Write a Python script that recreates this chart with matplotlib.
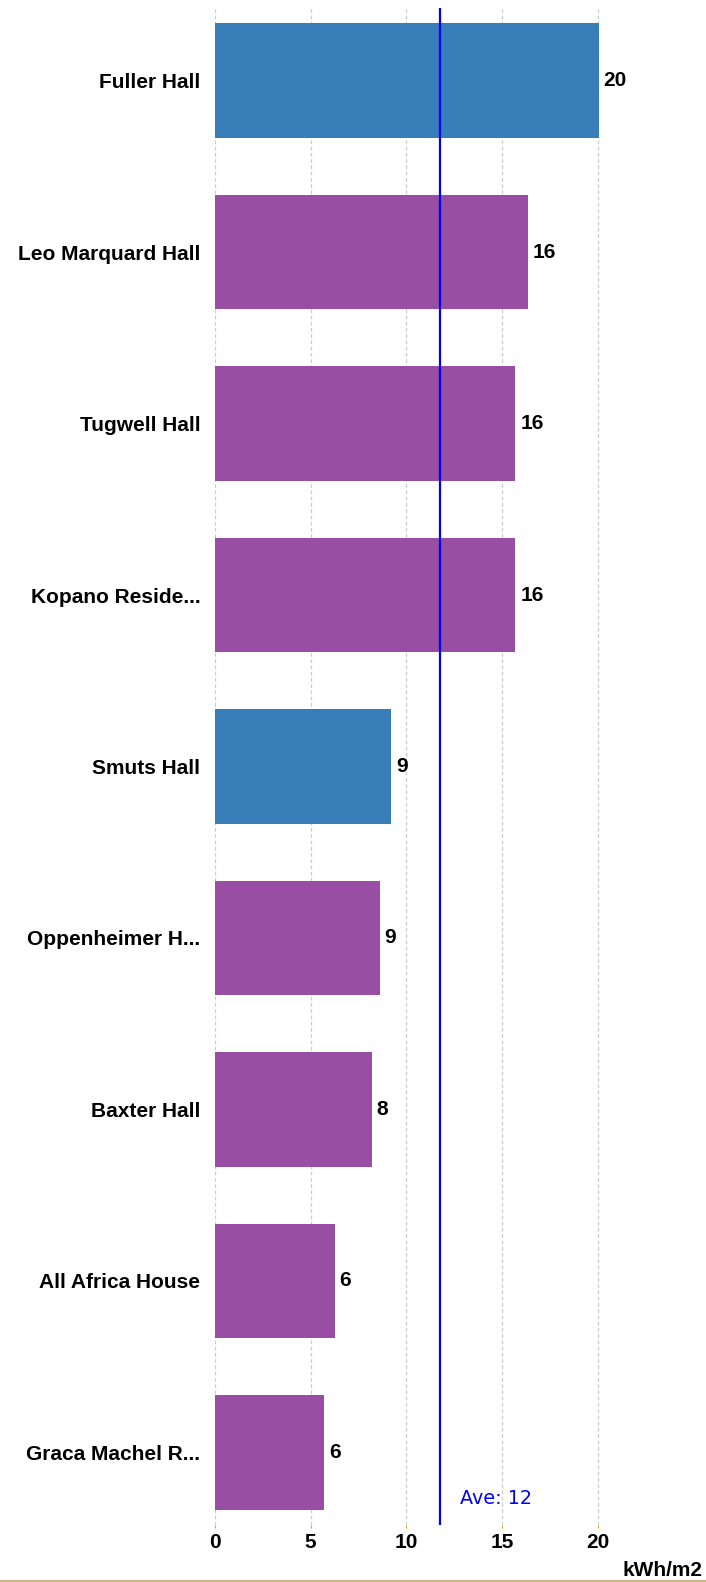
import matplotlib
matplotlib.use("Agg")
import matplotlib.pyplot as plt

categories = ["Fuller Hall", "Leo Marquard Hall", "Tugwell Hall", "Kopano Reside...",
              "Smuts Hall", "Oppenheimer H...", "Baxter Hall", "All Africa House",
              "Graca Machel R..."]
values = [20.05, 16.35, 15.7, 15.7, 9.2, 8.6, 8.2, 6.25, 5.7]
groups = ["blue", "purple", "purple", "purple", "blue", "purple", "purple", "purple", "purple"]
average = 11.75
x_ticks = [0, 5, 10, 15, 20]
unit_label = "kWh/m2"

palette = {"blue": "#377eb8", "purple": "#984ea3"}

plt.rcParams['font.family'] = ['Liberation Sans', 'DejaVu Sans']

fig = plt.figure(figsize=(7.06, 15.82), dpi=100)
ax = fig.add_axes([215/706, 1 - 1525/1582, 440/706, (1525 - 8)/1582])

ypos = list(range(len(categories)))
ax.barh(ypos, values, height=0.67, color=[palette[g] for g in groups], zorder=2)

for y, v in zip(ypos, values):
    ax.annotate(f"{round(v):d}", xy=(v, y), xytext=(3.5, 0), textcoords="offset points",
                ha="left", va="center", fontsize=15, fontweight="bold", color="black")

ax.axvline(average, color="#0000ff", linewidth=1.6, zorder=3)
ax.annotate(f"Ave: {round(average):d}", xy=(average, 8.27), xytext=(14.5, 0),
            textcoords="offset points", ha="left", va="center", fontsize=13.8,
            color="#0000ff", family="DejaVu Sans")

ax.set_xlim(0, 23)
ax.set_ylim(8.423, -0.423)
ax.set_xticks(x_ticks)
ax.set_xticklabels([str(t) for t in x_ticks], fontsize=15, fontweight="bold")
ax.set_yticks(ypos)
ax.set_yticklabels(categories, fontsize=15, fontweight="bold")
ax.tick_params(axis="y", length=0, pad=10.5)
ax.tick_params(axis="x", length=2, color="#f39c3c", pad=3.5)
ax.grid(axis="x", color="#cccccc", linestyle=(0, (3, 2)), linewidth=0.9, zorder=1)
ax.set_axisbelow(True)
for s in ax.spines.values():
    s.set_visible(False)

fig.text(703/706, 1 - 1571/1582, unit_label, ha="right", va="center",
         fontsize=15, fontweight="bold")
fig.add_artist(plt.Line2D([0, 1], [1 - 1580.5/1582] * 2, transform=fig.transFigure,
                          color="#c9a377", linewidth=1.2))

fig.savefig("out.png", dpi=100)
